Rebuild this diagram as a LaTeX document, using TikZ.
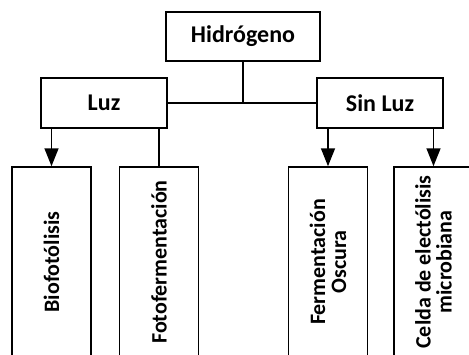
\documentclass[tikz,border=0pt]{standalone}
\usepackage{fontspec}
\setmainfont{Carlito}
\usetikzlibrary{arrows.meta}
\tikzset{
	box/.style={draw, line width=1.5pt, font=\bfseries\fontsize{22}{21}\selectfont,
		inner sep=0pt, align=center},
	topbox/.style={box, font=\bfseries\fontsize{24}{24}\selectfont,
		minimum width=126pt, minimum height=50pt},
	tallbox/.style={box, rotate=90, minimum width=190pt, minimum height=79pt},
	link/.style={line width=1.5pt},
	arr/.style={link, -{Triangle[length=18pt,width=14pt]}}
}
\begin{document}
\begin{tikzpicture}[x=1pt,y=-1pt]
	\useasboundingbox (0,0) rectangle (469,354);
	\clip (0,0) rectangle (469,354);
	\node[topbox, minimum width=154pt, minimum height=49pt] (hidrogeno) at (243,36.5) {Hidrógeno};
	\node[topbox] (luz) at (104,103) {Luz};
	\node[topbox] (sinluz) at (380,103) {Sin Luz};
	\node[tallbox] (bio) at (51.5,262) {Biofotólisis};
	\node[tallbox] (foto) at (159,262) {Fotofermentación};
	\node[tallbox] (ferm) at (328,262) {Fermentación\\Oscura};
	\node[tallbox] (celda) at (433.5,262) {Celda de electólisis\\microbiana};
	\draw[link] (hidrogeno.south) -- (hidrogeno.south |- luz.east);
	\draw[link] (luz.east) -- (sinluz.west);
	\draw[arr] (luz.south -| bio) -- (bio.east);
	\draw[link] (luz.south -| foto) -- (foto.east);
	\draw[arr] (sinluz.south -| ferm) -- (ferm.east);
	\draw[arr] (sinluz.south -| celda) -- (celda.east);
\end{tikzpicture}
\end{document}
